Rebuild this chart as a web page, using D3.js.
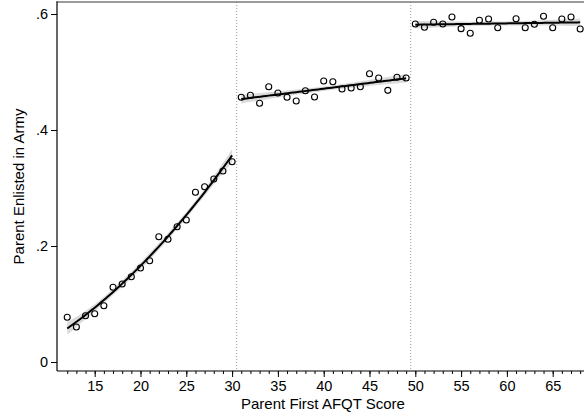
<!DOCTYPE html>
<html>
<head>
<meta charset="utf-8">
<script src="https://cdn.jsdelivr.net/npm/d3@7/dist/d3.min.js"></script>
<style>
  html, body { margin: 0; padding: 0; background: #fff; }
  svg { display: block; }
  text { font-family: "Liberation Sans", Arial, sans-serif; fill: #000; }
</style>
</head>
<body>
<svg id="chart" width="584" height="417"></svg>
<script>
// Binned means of parent enlistment by first AFQT score, three score bands
const scoresLow  = [12,13,14,15,16,17,18,19,20,21,22,23,24,25,26,27,28,29,30];
const shareLow   = [0.0771,0.0603,0.0798,0.0833,0.0971,0.1288,0.1345,0.1471,0.1621,0.1747,
                    0.2160,0.2116,0.2333,0.2448,0.2926,0.3022,0.3155,0.3293,0.3453];

const scoresMid  = [31,32,33,34,35,36,37,38,39,40,41,42,43,44,45,46,47,48,49];
const shareMid   = [0.4564,0.4598,0.4460,0.4747,0.4638,0.4564,0.4500,0.4678,0.4569,0.4845,
                    0.4833,0.4707,0.4724,0.4747,0.4971,0.4897,0.4684,0.4909,0.4897];

const scoresHigh = [50,51,52,53,54,55,56,57,58,59,61,62,63,64,65,66,67,68];
const shareHigh  = [0.5828,0.5771,0.5857,0.5828,0.5948,0.5747,0.5667,0.5891,0.5914,0.5764,
                    0.5919,0.5764,0.5822,0.5960,0.5764,0.5914,0.5948,0.5741];

// Cutoffs between bands and axis ticks
const cutoffs = [30.5, 49.5];
const xTicks = [15,20,25,30,35,40,45,50,55,60,65];
const xMinorTicks = d3.range(12, 69);
const yTicks = [0, 0.2, 0.4, 0.6];
const yTickLabels = ["0", ".2", ".4", ".6"];

const svg = d3.select("#chart");

const x = d3.scaleLinear().domain([11, 69]).range([58.06, 58.06 + 58 * 9.16]);
const y = d3.scaleLinear().domain([-0.0155, 0.62]).range([371, 2.4]);

const plotLeft = 57, plotRight = 584, plotTop = 2, plotBottom = 371;

// Least-squares polynomial fit with a pointwise confidence band
function polyFit(xs, ys, degree) {
  const p = degree + 1, n = xs.length;
  const X = xs.map(v => d3.range(p).map(k => Math.pow(v, k)));
  const XtX = d3.range(p).map(i => d3.range(p).map(j => d3.sum(X, r => r[i] * r[j])));
  const Xty = d3.range(p).map(i => d3.sum(X, (r, idx) => r[i] * ys[idx]));
  const inv = invert(XtX);
  const beta = inv.map(row => d3.sum(row, (v, j) => v * Xty[j]));
  const resid = X.map((r, idx) => ys[idx] - d3.sum(r, (v, k) => v * beta[k]));
  const s2 = d3.sum(resid, e => e * e) / (n - p);
  const t = 1.65;
  const x0 = d3.min(xs), x1 = d3.max(xs);
  return d3.range(0, 61).map(i => {
    const xv = x0 + (x1 - x0) * i / 60;
    const r = d3.range(p).map(k => Math.pow(xv, k));
    const yhat = d3.sum(r, (v, k) => v * beta[k]);
    let q = 0;
    for (let a = 0; a < p; a++) for (let b = 0; b < p; b++) q += r[a] * inv[a][b] * r[b];
    const se = Math.sqrt(s2 * q);
    return { x: xv, y: yhat, lo: yhat - t * se, hi: yhat + t * se };
  });
}

function invert(M) {
  const n = M.length;
  const A = M.map((row, i) => row.concat(d3.range(n).map(j => (i === j ? 1 : 0))));
  for (let c = 0; c < n; c++) {
    let piv = c;
    for (let r = c + 1; r < n; r++) if (Math.abs(A[r][c]) > Math.abs(A[piv][c])) piv = r;
    [A[c], A[piv]] = [A[piv], A[c]];
    const d = A[c][c];
    for (let j = 0; j < 2 * n; j++) A[c][j] /= d;
    for (let r = 0; r < n; r++) {
      if (r === c) continue;
      const f = A[r][c];
      for (let j = 0; j < 2 * n; j++) A[r][j] -= f * A[c][j];
    }
  }
  return A.map(row => row.slice(n));
}

const bands = [
  { xs: scoresLow,  ys: shareLow,  deg: 2 },
  { xs: scoresMid,  ys: shareMid,  deg: 1 },
  { xs: scoresHigh, ys: shareHigh, deg: 1 }
];
bands.forEach(b => { b.fit = polyFit(b.xs, b.ys, b.deg); });

const plot = svg.append("g");

// Cutoff reference lines
plot.selectAll("line.cut").data(cutoffs).join("line")
  .attr("class", "cut")
  .attr("x1", d => x(d)).attr("x2", d => x(d))
  .attr("y1", plotTop).attr("y2", plotBottom)
  .attr("stroke", "#9a9a9a").attr("stroke-width", 1)
  .attr("stroke-dasharray", "1 2");

const area = d3.area().x(d => x(d.x)).y0(d => y(d.lo)).y1(d => y(d.hi));
const line = d3.line().x(d => x(d.x)).y(d => y(d.y));

bands.forEach(b => {
  plot.append("path").datum(b.fit)
    .attr("d", area).attr("fill", "#cfcfcf").attr("fill-opacity", 0.75);
});

bands.forEach(b => {
  const pts = b.xs.map((v, i) => ({ x: v, y: b.ys[i] }));
  plot.append("g").selectAll("circle").data(pts).join("circle")
    .attr("cx", d => x(d.x)).attr("cy", d => y(d.y)).attr("r", 3)
    .attr("fill", "none").attr("stroke", "#000").attr("stroke-width", 1.1);
});

bands.forEach(b => {
  plot.append("path").datum(b.fit)
    .attr("d", line).attr("fill", "none").attr("stroke", "#000").attr("stroke-width", 2);
});

// Plot region top outline
svg.append("line").attr("x1", plotLeft).attr("x2", plotRight).attr("y1", plotTop).attr("y2", plotTop)
  .attr("stroke", "#7a7a7a").attr("stroke-width", 1.6);

// X axis
const xAxis = svg.append("g").attr("transform", `translate(0,${plotBottom})`);
xAxis.call(d3.axisBottom(x).tickValues(xMinorTicks).tickSize(3).tickFormat(""));
xAxis.append("g").call(d3.axisBottom(x).tickValues(xTicks).tickSize(6).tickPadding(4).tickFormat(d3.format("d")));
xAxis.selectAll(".domain").remove();
xAxis.append("line").attr("x1", plotLeft).attr("x2", plotRight).attr("stroke", "#000").attr("stroke-width", 1.2);
xAxis.selectAll(".tick line").attr("stroke", "#000");
xAxis.selectAll(".tick text").attr("font-size", 14.5)
  .attr("font-family", '"Liberation Sans", Arial, sans-serif').attr("dy", "0.71em");

// Y axis
const yAxis = svg.append("g").attr("transform", `translate(${plotLeft},0)`);
yAxis.call(d3.axisLeft(y).tickValues(yTicks).tickSize(6).tickPadding(3)
  .tickFormat((d, i) => yTickLabels[i]));
yAxis.select(".domain").remove();
yAxis.append("line").attr("y1", plotTop - 0.8).attr("y2", plotBottom).attr("stroke", "#000").attr("stroke-width", 1.2);
yAxis.selectAll(".tick line").attr("stroke", "#000");
yAxis.selectAll(".tick text").attr("font-size", 14.5)
  .attr("font-family", '"Liberation Sans", Arial, sans-serif');

// Axis titles
svg.append("text").attr("x", 323).attr("y", 409)
  .attr("text-anchor", "middle").attr("font-size", 15)
  .text("Parent First AFQT Score");
svg.append("text")
  .attr("transform", `translate(23.5,${(plotTop + plotBottom) / 2}) rotate(-90)`)
  .attr("text-anchor", "middle").attr("font-size", 15)
  .text("Parent Enlisted in Army");
</script>
</body>
</html>
